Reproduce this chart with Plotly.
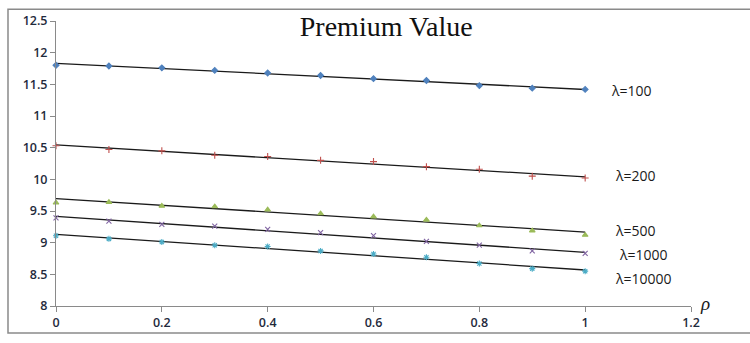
import numpy as np
import plotly.graph_objects as go

rho = [0, 0.1, 0.2, 0.3, 0.4, 0.5, 0.6, 0.7, 0.8, 0.9, 1.0]
series_names = ["λ=100", "λ=200", "λ=500", "λ=1000", "λ=10000"]
v100 = [11.80, 11.79, 11.76, 11.72, 11.68, 11.64, 11.59, 11.56, 11.48, 11.44, 11.42]
v200 = [10.53, 10.47, 10.45, 10.38, 10.36, 10.30, 10.28, 10.20, 10.16, 10.05, 10.02]
v500 = [9.63, 9.64, 9.58, 9.57, 9.52, 9.46, 9.41, 9.36, 9.27, 9.19, 9.12]
v1000 = [9.39, 9.34, 9.29, 9.26, 9.21, 9.16, 9.11, 9.02, 8.96, 8.87, 8.83]
v10000 = [9.11, 9.06, 9.01, 8.96, 8.94, 8.87, 8.82, 8.77, 8.67, 8.59, 8.55]
y_ticks = [8, 8.5, 9, 9.5, 10, 10.5, 11, 11.5, 12, 12.5]
x_ticks = [0, 0.2, 0.4, 0.6, 0.8, 1, 1.2]

all_series = [v100, v200, v500, v1000, v10000]
colors = ["#4F81BD", "#C0504D", "#9BBB59", "#8064A2", "#4BACC6"]
symbols = ["diamond", "cross-thin-open", "triangle-up", "x-thin-open", "asterisk-open"]
sizes = [4.5, 5, 5, 5, 5]
label_pos = [(1.045, 11.40), (1.053, 10.06), (1.053, 9.19), (1.06, 8.82), (1.053, 8.44)]

fig = go.Figure()
for name, vals, c, s, sz in zip(series_names, all_series, colors, symbols, sizes):
    k, b = np.polyfit(rho, vals, 1)
    xs = [rho[0], rho[-1]]
    fig.add_trace(go.Scatter(x=xs, y=[k * x + b for x in xs], mode="lines",
                             line=dict(color="#1a1a1a", width=1.3), showlegend=False,
                             hoverinfo="skip"))
    fig.add_trace(go.Scatter(x=rho, y=vals, mode="markers", name=name, showlegend=False,
                             marker=dict(symbol=s, size=sz, color=c,
                                         line=dict(color=c, width=1.1)),
                             cliponaxis=False))

for name, (lx, ly) in zip(series_names, label_pos):
    fig.add_annotation(x=lx, y=ly, text=name, showarrow=False, xanchor="left",
                       yanchor="middle", font=dict(family="Open Sans", size=14, color="#1a1a1a"))

fig.add_annotation(xref="paper", yref="paper", x=1.033, y=-0.034, text="<i>ρ</i>",
                   showarrow=False, font=dict(family="Liberation Serif", size=19, color="#1a1a1a"))

fig.add_shape(type="rect", xref="paper", yref="paper", x0=-0.0756, x1=1.2, y0=-0.095, y1=1.041,
              line=dict(color="#8a8a8a", width=1.5))

tickfont = dict(family="Open Sans", size=12.5, color="#1f2a3c", weight=600)
fig.update_layout(
    width=750, height=343,
    margin=dict(l=56, r=59, t=17, b=31),
    paper_bgcolor="white", plot_bgcolor="white",
    title=dict(text="Premium Value", x=0.515, xanchor="center", y=0.924, yanchor="middle",
               font=dict(family="Liberation Serif", size=28, color="#111111")),
)
fig.update_xaxes(range=[0, 1.2], tickvals=x_ticks, ticktext=[f"{t:g}" for t in x_ticks],
                 showgrid=False, zeroline=False, showline=True, linecolor="#8a8a8a", linewidth=1,
                 ticks="outside", ticklen=5, tickcolor="#8a8a8a", tickfont=tickfont)
fig.update_yaxes(range=[8, 12.5], tickvals=y_ticks, ticktext=[f"{t:g}" for t in y_ticks],
                 showgrid=False, zeroline=False, showline=True, linecolor="#8a8a8a", linewidth=1,
                 ticks="outside", ticklen=5, tickcolor="#8a8a8a", tickfont=tickfont)

fig.write_html("out.html", config={"displayModeBar": False},
               post_script="document.body.style.margin='0';")
